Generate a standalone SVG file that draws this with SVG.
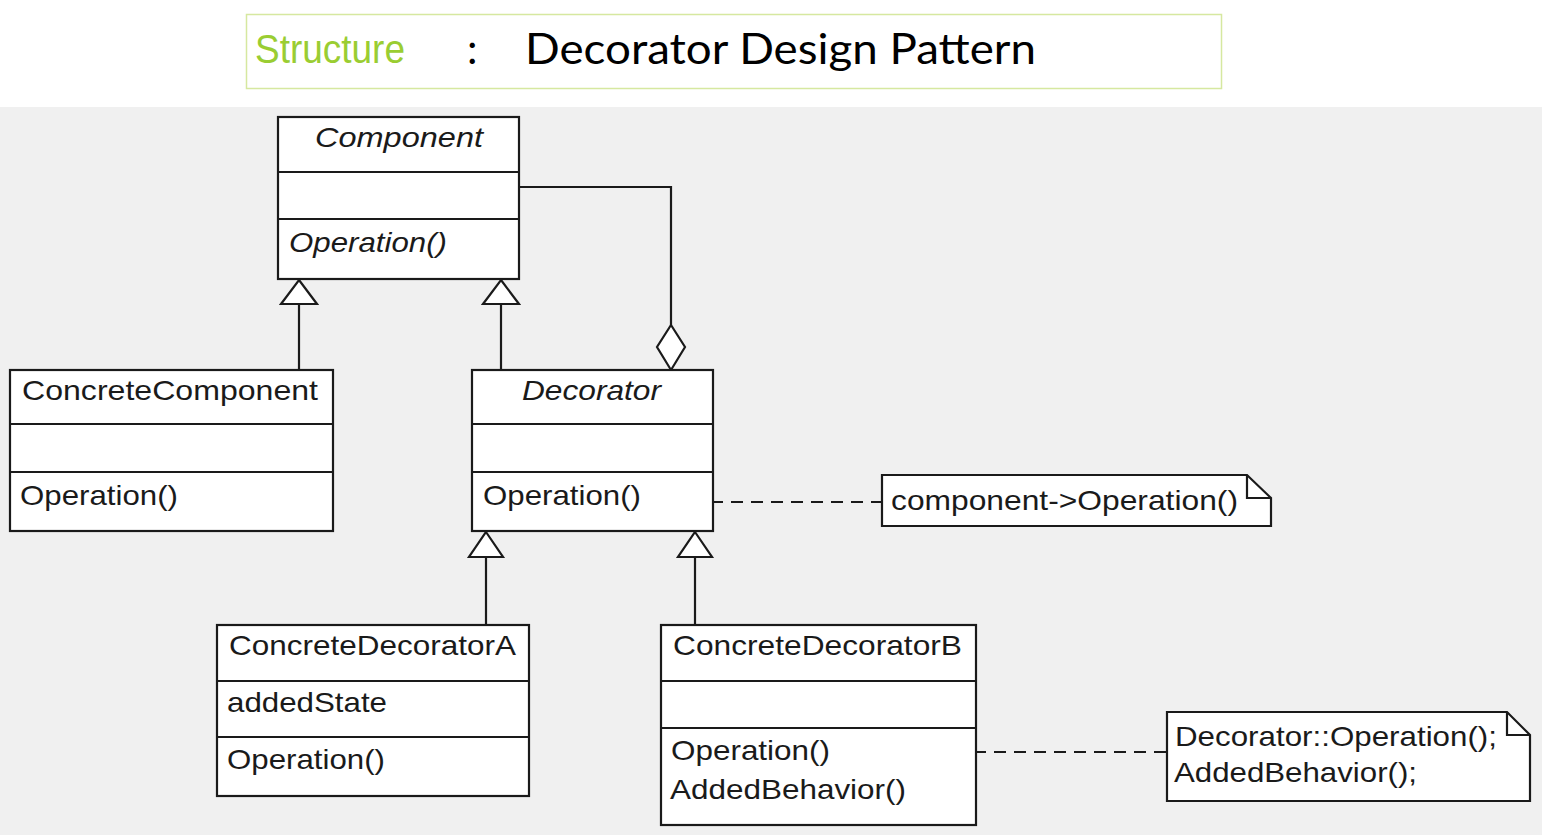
<svg xmlns="http://www.w3.org/2000/svg" width="1546" height="838" viewBox="0 0 1546 838">
<style>
.box{fill:#ffffff;stroke:#1a1a1a;stroke-width:2.2}
.div{stroke:#1a1a1a;stroke-width:2}
.t{font-family:"Liberation Sans",Arial,sans-serif;font-size:28px;fill:#1a1a1a}
.i{font-style:italic}
.ln{fill:none;stroke:#1a1a1a;stroke-width:2.2}
.dash{fill:none;stroke:#1a1a1a;stroke-width:2;stroke-dasharray:12 8}
.tri{fill:#ffffff;stroke:#1a1a1a;stroke-width:2.2}
</style>
<rect x="0" y="0" width="1546" height="838" fill="#ffffff"/>
<rect x="0" y="107" width="1542" height="728" fill="#f0f0f0"/>
<g id="title">
<rect x="246.5" y="14.5" width="975" height="74" fill="#ffffff" stroke="#d6e8a0" stroke-width="1.5"/>
<text x="255" y="63" font-family="'Liberation Sans',Arial,sans-serif" font-size="40" fill="#9acd32" textLength="150" lengthAdjust="spacingAndGlyphs">Structure</text>
<text x="467" y="64" font-family="Lato,'Open Sans',sans-serif" font-size="42" fill="#000">:</text>
<text x="525" y="64" font-family="Lato,'Open Sans',sans-serif" font-size="43" fill="#000" textLength="511" lengthAdjust="spacingAndGlyphs">Decorator Design Pattern</text>
</g>
<g id="connectors">
<polyline class="ln" points="516,187 671,187 671,325"/>
<polygon class="tri" points="671,325 685,347 671,370 657,347"/>
<line class="ln" x1="299" y1="304" x2="299" y2="370"/>
<polygon class="tri" points="299,280 317,304 281,304"/>
<line class="ln" x1="501" y1="304" x2="501" y2="370"/>
<polygon class="tri" points="501,280 519,304 483,304"/>
<line class="ln" x1="486" y1="557" x2="486" y2="625"/>
<polygon class="tri" points="486,532 503,557 469,557"/>
<line class="ln" x1="695" y1="557" x2="695" y2="625"/>
<polygon class="tri" points="695,532 712,557 678,557"/>
<line class="dash" x1="711" y1="502" x2="882" y2="502"/>
<line class="dash" x1="974" y1="752" x2="1167" y2="752"/>
</g>
<g id="component">
<rect class="box" x="278" y="117" width="241" height="162"/>
<line class="div" x1="278" y1="172" x2="519" y2="172"/>
<line class="div" x1="278" y1="219" x2="519" y2="219"/>
<text class="t i" x="315" y="147" textLength="168" lengthAdjust="spacingAndGlyphs">Component</text>
<text class="t i" x="289" y="252" textLength="158" lengthAdjust="spacingAndGlyphs">Operation()</text>
</g>
<g id="concreteComponent">
<rect class="box" x="10" y="370" width="323" height="161"/>
<line class="div" x1="10" y1="424" x2="333" y2="424"/>
<line class="div" x1="10" y1="472" x2="333" y2="472"/>
<text class="t" x="22" y="400" textLength="296" lengthAdjust="spacingAndGlyphs">ConcreteComponent</text>
<text class="t" x="20" y="505" textLength="158" lengthAdjust="spacingAndGlyphs">Operation()</text>
</g>
<g id="decorator">
<rect class="box" x="472" y="370" width="241" height="161"/>
<line class="div" x1="472" y1="424" x2="713" y2="424"/>
<line class="div" x1="472" y1="472" x2="713" y2="472"/>
<text class="t i" x="522" y="400" textLength="139" lengthAdjust="spacingAndGlyphs">Decorator</text>
<text class="t" x="483" y="505" textLength="158" lengthAdjust="spacingAndGlyphs">Operation()</text>
</g>
<g id="note1">
<path class="box" d="M882,475 H1247 L1271,498 V526 H882 Z"/>
<path class="ln" d="M1247,475 V498 H1271"/>
<text class="t" x="891" y="510" textLength="347" lengthAdjust="spacingAndGlyphs">component-&gt;Operation()</text>
</g>
<g id="concreteDecoratorA">
<rect class="box" x="217" y="625" width="312" height="171"/>
<line class="div" x1="217" y1="681" x2="529" y2="681"/>
<line class="div" x1="217" y1="737" x2="529" y2="737"/>
<text class="t" x="229" y="655" textLength="287" lengthAdjust="spacingAndGlyphs">ConcreteDecoratorA</text>
<text class="t" x="227" y="712" textLength="160" lengthAdjust="spacingAndGlyphs">addedState</text>
<text class="t" x="227" y="769" textLength="158" lengthAdjust="spacingAndGlyphs">Operation()</text>
</g>
<g id="concreteDecoratorB">
<rect class="box" x="661" y="625" width="315" height="200"/>
<line class="div" x1="661" y1="681" x2="976" y2="681"/>
<line class="div" x1="661" y1="728" x2="976" y2="728"/>
<text class="t" x="673" y="655" textLength="289" lengthAdjust="spacingAndGlyphs">ConcreteDecoratorB</text>
<text class="t" x="671" y="760" textLength="159" lengthAdjust="spacingAndGlyphs">Operation()</text>
<text class="t" x="670" y="799" textLength="236" lengthAdjust="spacingAndGlyphs">AddedBehavior()</text>
</g>
<g id="note2">
<path class="box" d="M1167,712 H1507 L1530,735 V801 H1167 Z"/>
<path class="ln" d="M1507,712 V735 H1530"/>
<text class="t" x="1175" y="746" textLength="322" lengthAdjust="spacingAndGlyphs">Decorator::Operation();</text>
<text class="t" x="1174" y="782" textLength="243" lengthAdjust="spacingAndGlyphs">AddedBehavior();</text>
</g>
</svg>
